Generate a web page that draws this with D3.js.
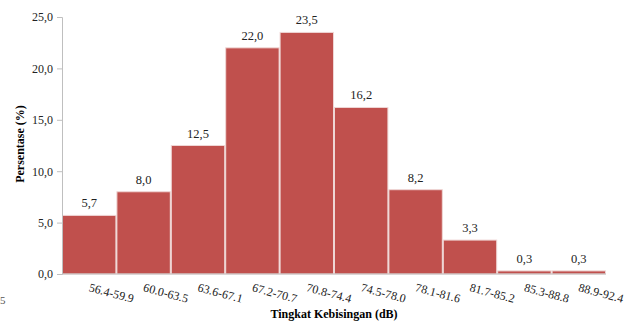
<!DOCTYPE html>
<html>
<head>
<meta charset="utf-8">
<script src="https://cdn.jsdelivr.net/npm/d3@7"></script>
<style>
  body { margin: 0; background: #fff; }
</style>
</head>
<body>
<div id="chart"></div>
<script>
// data
const categories = ["56.4-59.9", "60.0-63.5", "63.6-67.1", "67.2-70.7", "70.8-74.4",
  "74.5-78.0", "78.1-81.6", "81.7-85.2", "85.3-88.8", "88.9-92.4"];
const values = [5.7, 8.0, 12.5, 22.0, 23.5, 16.2, 8.2, 3.3, 0.3, 0.3];
const yTicks = [0, 5, 10, 15, 20, 25];

const W = 641, H = 327;
const margin = { top: 17, right: 35, bottom: 53, left: 62 };
const width = W - margin.left - margin.right,
  height = H - margin.top - margin.bottom;
const serif = "Liberation Serif";

const svg = d3.select("#chart").append("svg")
  .attr("width", W).attr("height", H)
  .attr("font-family", serif);
const g = svg.append("g")
  .attr("transform", `translate(${margin.left},${margin.top})`);

const x = d3.scaleBand().domain(categories).range([0, width]).padding(0);
const y = d3.scaleLinear().domain([0, 25]).range([height, 0]);

const fmt = d => d.toFixed(1).replace(".", ",");

// bars
g.selectAll("rect.bar")
  .data(values)
  .enter()
  .append("rect")
  .attr("class", "bar")
  .attr("x", (d, i) => x(categories[i]) + 0.5)
  .attr("y", d => y(d))
  .attr("width", x.bandwidth() - 1)
  .attr("height", d => height - y(d))
  .style("fill", "#c0504d")
  .style("stroke", "#efd6d5")
  .style("stroke-width", 1);

// value labels
g.selectAll("text.val")
  .data(values)
  .enter()
  .append("text")
  .attr("class", "val")
  .attr("x", (d, i) => x(categories[i]) + x.bandwidth() / 2)
  .attr("y", d => y(d) - 8)
  .attr("text-anchor", "middle")
  .attr("font-family", serif)
  .attr("font-size", 12.5)
  .attr("fill", "#222")
  .text(fmt);

// y axis
const yAxis = g.append("g")
  .call(d3.axisLeft(y).tickValues(yTicks).tickFormat(fmt).tickSize(5).tickPadding(4))
  .attr("font-family", serif)
  .attr("font-size", 12);
yAxis.select(".domain").attr("stroke", "#bfbfbf");
yAxis.selectAll(".tick line").attr("stroke", "#bfbfbf");
yAxis.selectAll(".tick text").attr("fill", "#222");

// x baseline
g.append("line")
  .attr("x1", 0).attr("x2", width)
  .attr("y1", height).attr("y2", height)
  .attr("stroke", "#bfbfbf");

// x labels, tilted
g.selectAll("text.cat")
  .data(categories)
  .enter()
  .append("text")
  .attr("class", "cat")
  .attr("transform", d => `translate(${x(d) + x.bandwidth() / 2 - 1},${height + 17}) rotate(15)`)
  .attr("text-anchor", "start")
  .attr("font-family", serif)
  .attr("font-size", 12)
  .attr("fill", "#222")
  .text(d => d);

// axis titles
svg.append("text")
  .attr("x", 334).attr("y", 318)
  .attr("text-anchor", "middle")
  .attr("font-family", serif)
  .attr("font-size", 12)
  .attr("font-weight", "bold")
  .text("Tingkat Kebisingan (dB)");

svg.append("text")
  .attr("transform", "translate(24,144) rotate(-90)")
  .attr("text-anchor", "middle")
  .attr("font-family", serif)
  .attr("font-size", 12)
  .attr("font-weight", "bold")
  .text("Persentase (%)");

// stray cropped glyph at bottom-left
svg.append("text")
  .attr("x", 0).attr("y", 304)
  .attr("font-family", serif)
  .attr("font-size", 11)
  .attr("fill", "#555")
  .text("5");
</script>
</body>
</html>
